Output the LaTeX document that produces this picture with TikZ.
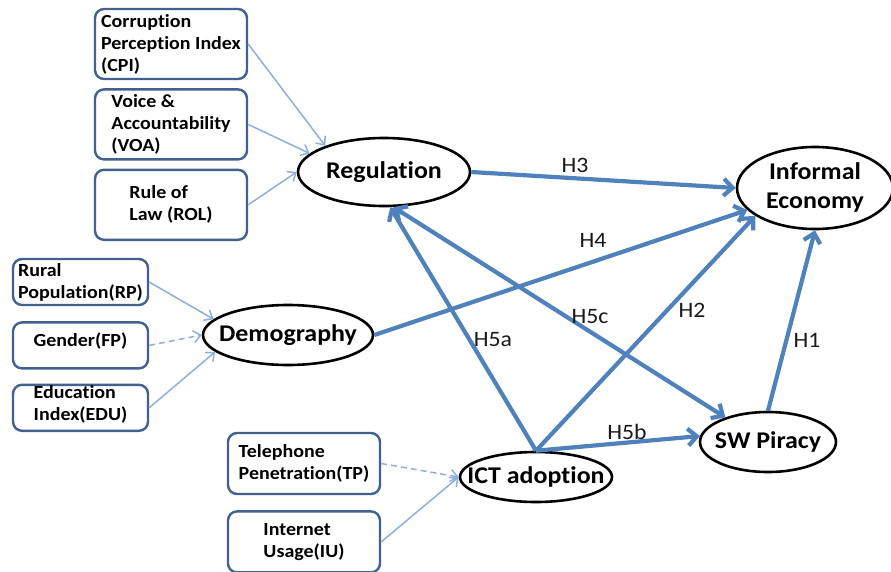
\documentclass[tikz,border=0pt]{standalone}
\usepackage{fontspec}
\setmainfont{Carlito}[FakeStretch=1.08, Ligatures=NoCommon]
\usepackage{tikz}
\usetikzlibrary{shapes.geometric,arrows.meta,positioning}
\definecolor{hypblue}{RGB}{79,129,189}
\definecolor{feedblue}{RGB}{140,175,222}
\definecolor{boxline}{RGB}{65,97,143}
\tikzset{
  indbox/.style  ={rectangle, rounded corners=9pt, draw=boxline, line width=2.4pt,
                   fill=white, minimum width=152pt, minimum height=70pt,
                   align=left, inner sep=2pt, font=\fontsize{18.5}{22}\selectfont\bfseries},
  leftbox/.style ={indbox, minimum width=135pt, minimum height=46pt, inner sep=1pt},
  lowbox/.style  ={indbox, minimum height=61pt},
  construct/.style={ellipse, draw=black, line width=2.6pt, fill=white, inner sep=0pt,
                   font=\fontsize{24}{29}\selectfont\bfseries},
  hyp/.style     ={-{Straight Barb[length=9pt,width=17pt]}, line width=4.2pt, draw=hypblue},
  hyp2/.style    ={{Straight Barb[length=9pt,width=17pt]}-{Straight Barb[length=9pt,width=17pt]},
                   line width=4.2pt, draw=hypblue},
  feed/.style    ={-{Straight Barb[length=7pt,width=12pt]}, line width=1.5pt, draw=feedblue},
  hlabel/.style  ={font=\fontsize{22}{26}\selectfont, text=black!90, inner sep=0pt}
}
\begin{document}
\begin{tikzpicture}[x=1pt, y=-1pt]
  \useasboundingbox (0,0) rectangle (891,571);
  % indicator boxes
  \node[indbox]                 (cpi)    at (171,44) {Corruption\\Perception Index\\(CPI)};
  \node[indbox, below=8pt of cpi] (voa)  {Voice \&\\Accountability\\(VOA)};
  \node[indbox, below=8pt of voa] (rol)  {Rule of\\Law (ROL)};
  \node[leftbox]                (rural)  at (80.5,282) {Rural\\Population(RP)};
  \node[leftbox, below=15pt of rural, text depth=12pt] (gender) {Gender(FP)};
  \node[leftbox, below=14pt of gender, text depth=9pt] (edu) {Education\\Index(EDU)};
  \node[lowbox]                 (tp)     at (304,463.5) {Telephone\\Penetration(TP)};
  \node[lowbox, below=15pt of tp] (iu)   {Internet\\Usage(IU)};
  % constructs
  \node[construct, minimum width=172pt, minimum height=68pt] (reg)  at (384,172) {\makebox[0pt]{Regulation}};
  \node[construct, minimum width=170pt, minimum height=60pt] (demo) at (288,335) {\makebox[0pt]{Demography}};
  \node[construct, minimum width=152pt, minimum height=50pt] (ict)  at (536,477) {\makebox[0pt]{ICT adoption}};
  \node[construct, minimum width=136pt, minimum height=60pt] (sw)   at (768,442) {\makebox[0pt]{SW Piracy}};
  \node[construct, minimum width=156pt, minimum height=70pt] (inf)  at (815,188)
       {\makebox[0pt]{\begin{tabular}{@{}c@{}}Informal\\Economy\end{tabular}}};
  % measurement arrows
  \draw[feed] (cpi.east) -- (reg.156);  \draw[feed] (voa.east) -- (reg.166);
  \draw[feed] (rol.east) -- (reg.west);
  \draw[feed] (rural.east) -- (demo.168);
  \draw[feed, dash pattern=on 6pt off 4pt] (gender.east) -- (demo.west);
  \draw[feed] (edu.east) -- (demo.193);
  \draw[feed, dash pattern=on 6pt off 4pt] (tp.east) -- (ict.west);
  \draw[feed] (iu.east) -- (ict.west);
  % hypotheses
  \draw[hyp] (reg.east) -- (inf.west);
  \draw[hyp] (demo.east) -- (inf.198);
  \draw[hyp] (ict.north) -- (inf.205);
  \draw[hyp] (sw.north) -- (inf.south);
  \draw[hyp] (ict.north) -- (reg.280);
  \draw[hyp2] (reg.285) -- (sw.150);
  \draw[hyp] (ict.north) -- (sw.175);
  \node[hlabel] (h3)  at (575,165) {H3};
  \node[hlabel] (h4)  at (593,240) {H4};
  \node[hlabel] (h5c) at (590,317) {H5c};
  \node[hlabel] (h2)  at (692,310) {H2};
  \node[hlabel] (h1)  at (807,340) {H1};
  \node[hlabel] (h5a) at (493,340) {H5a};
  \node[hlabel] (h5b) at (627,432) {H5b};
\end{tikzpicture}
\end{document}
